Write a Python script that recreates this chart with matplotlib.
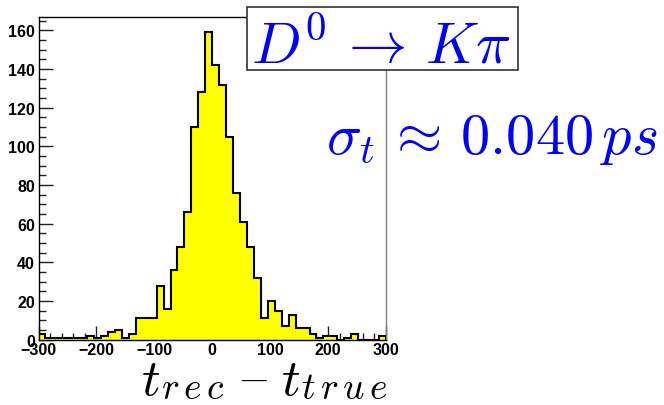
"""
Reconstructed-minus-true decay time, D0 -> K pi
"""

import numpy as np
import matplotlib.pyplot as plt
from matplotlib.patches import Rectangle
from matplotlib.ticker import MultipleLocator

plt.rcParams['mathtext.fontset'] = 'cm'
plt.rcParams['font.family'] = ['Liberation Sans', 'DejaVu Sans']

# Histogram: 50 bins of 12 over [-300, 300]
bin_lo = -300
bin_hi = 300
n_bins = 50
counts = [3, 1, 1, 1, 1, 1, 1, 2, 1, 2,
          4, 5, 1, 3, 11, 11, 11, 28, 16, 36,
          48, 66, 110, 128, 159, 142, 132, 105, 76, 61,
          48, 32, 11, 20, 15, 7, 13, 6, 6, 3,
          1, 2, 2, 0, 1, 3, 0, 0, 0, 2]

x_ticks = [-300, -200, -100, 0, 100, 200, 300]
y_ticks = [0, 20, 40, 60, 80, 100, 120, 140, 160]

edges = np.linspace(bin_lo, bin_hi, n_bins + 1)

W, H = 664, 406
fig = plt.figure(figsize=(W / 100, H / 100), dpi=100)
ax = fig.add_axes([38.5 / W, 1 - 340.7 / H, (386 - 38.5) / W, (340.7 - 18) / H])

ax.stairs(counts, edges, fill=True, color='#ffff00', zorder=2)
ax.stairs(counts, edges, color='black', linewidth=1.5, baseline=0, zorder=3)

ax.set_xlim(bin_lo, bin_hi)
ax.set_ylim(0, 1.05 * max(counts))

ax.xaxis.set_minor_locator(MultipleLocator(20))
ax.yaxis.set_minor_locator(MultipleLocator(5))
ax.set_xticks(x_ticks)
ax.set_yticks(y_ticks)

ax.tick_params(which='both', direction='in', top=False, right=False,
               color='#222222', width=1)
ax.tick_params(which='major', length=10, labelsize=11.5)
ax.tick_params(which='minor', length=5)
ax.tick_params(axis='x', pad=1.5)
ax.tick_params(axis='y', pad=2.5)
for lab in ax.get_xticklabels() + ax.get_yticklabels():
    lab.set_fontweight('bold')

for s in ['left', 'bottom', 'top']:
    ax.spines[s].set_color('black')
    ax.spines[s].set_linewidth(1)
ax.spines['right'].set_color('#808080')
ax.spines['right'].set_linewidth(1)

# Title box
fig.patches.append(Rectangle((247.3 / W, 1 - 71 / H), 270.4 / W, 62.7 / H,
                             transform=fig.transFigure, facecolor='white',
                             edgecolor='#333333', linewidth=1.2, zorder=5))
fig.text(381 / W, 1 - 62.7 / H, r'$D^0 \,\rightarrow\, K\pi$', color='#0000ff',
         fontsize=42, ha='center', va='baseline', zorder=6)

fig.text(492 / W, 1 - 154 / H, r'$\sigma_t \,\approx\, 0.040\,ps$', color='#0000ff',
         fontsize=42, ha='center', va='baseline', zorder=6)

# x-axis title, built from pieces (TLatex-like subscript sizes)
def px(x, y):
    return x / W, 1 - y / H

fig.text(*px(141, 395), r'$t$', fontsize=37, ha='left', va='baseline')
fig.text(*px(161, 399), r'$r\,e\,c$', fontsize=27, ha='left', va='baseline')
fig.text(*px(252, 379), r'$-$', fontsize=30, ha='center', va='center')
fig.text(*px(281, 395), r'$t$', fontsize=37, ha='left', va='baseline')
fig.text(*px(301, 399), r'$t\,r\,u\,e$', fontsize=27, ha='left', va='baseline')

plt.savefig('out.png', dpi=100)
plt.close()
